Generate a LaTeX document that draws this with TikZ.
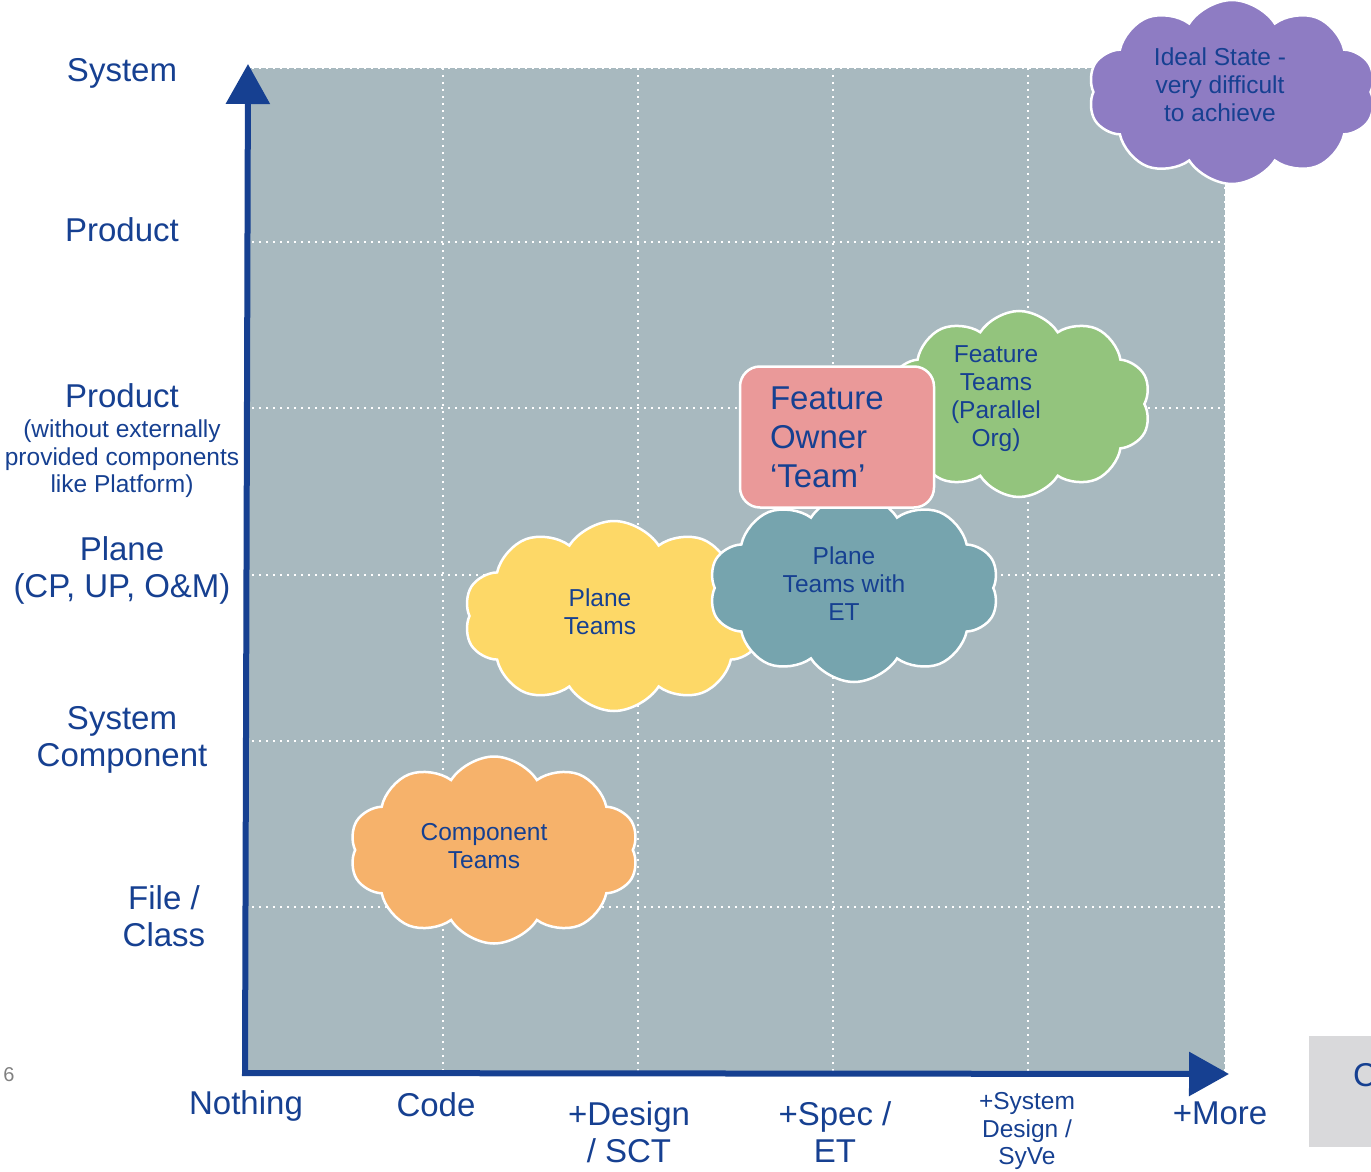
\documentclass[tikz,border=0pt]{standalone}
\usepackage{fontspec}
\setmainfont{Liberation Sans}
\usepackage{tikz}
\usetikzlibrary{positioning, arrows.meta, shapes.symbols}

\definecolor{navy}{RGB}{22,64,145}
\definecolor{gridbg}{RGB}{168,185,191}
\definecolor{cyellow}{RGB}{253,216,103}
\definecolor{cteal}{RGB}{118,164,174}
\definecolor{cgreen}{RGB}{147,196,125}
\definecolor{corange}{RGB}{246,178,107}
\definecolor{cpurple}{RGB}{142,124,195}
\definecolor{cpink}{RGB}{234,153,153}
\definecolor{sidegray}{RGB}{217,217,219}

\begin{document}
\begin{tikzpicture}[
    x=1pt, y=-1pt,
    >={Triangle[length=40pt, width=43pt]},
    gridline/.style={white, line width=1.8pt, dash pattern=on 2pt off 5pt},
    puff/.style   ={cloud, cloud puffs=10, cloud puff arc=115, cloud ignores aspect, draw=white, line width=2.5pt,
                    inner sep=0pt},
    puftxt/.style ={align=center, text=navy, font=\fontsize{24.5}{28}\selectfont},
    axlbl/.style  ={align=center, text=navy, font=\fontsize{33}{37}\selectfont},
    note/.style   ={align=center, text=navy, font=\fontsize{24.5}{27.5}\selectfont},
    fobox/.style  ={draw=white, line width=2.5pt, fill=cpink, rounded corners=20pt, align=left, text=navy,
                    text width=134pt, inner xsep=30pt, minimum height=141pt, font=\fontsize{33}{39}\selectfont},
]
\useasboundingbox (0,0) rectangle (1371,1172);
\clip (0,0) rectangle (1371,1172);

% background grid
\fill[gridbg] (245,68) rectangle (1225,1072);
\foreach \x in {443,638,833,1028,1225}
    \draw[gridline] (\x,68) -- (\x,1072);
\foreach \y in {68,242,408,575,741,907}
    \draw[gridline] (245,\y) -- (1225,\y);

% clouds, text sits a bit left of each centre
\node[puff, fill=cpurple, minimum width=288pt, minimum height=184pt] (ideal) at (1232,92) {};
\node[puftxt, xshift=-12pt, yshift=7pt] (idealtxt) at (ideal) {Ideal State -\\very difficult\\to achieve};

\node[puff, fill=cgreen,  minimum width=264pt, minimum height=186pt] (ftteams) at (1019,404) {};
\node[puftxt, xshift=-23pt, yshift=5pt] (fttxt) at (ftteams) {Feature\\Teams\\(Parallel\\Org)};

\node[puff, fill=cyellow, minimum width=300pt, minimum height=190pt] (plane) at (614,616) {};
\node[puftxt, xshift=-14pt, yshift=4pt] (planetxt) at (plane) {Plane\\Teams};

\node[puff, fill=cteal,   minimum width=290pt, minimum height=188pt] (planeet) at (854,588) {};
\node[puftxt, xshift=-10pt, yshift=4pt] (planeettxt) at (planeet) {Plane\\Teams with\\ET};

\node[puff, fill=corange, minimum width=289pt, minimum height=187pt] (comp) at (494,850) {};
\node[puftxt, xshift=-10pt, yshift=4pt] (comptxt) at (comp) {Component\\Teams};

\node[fobox] (fo) at (837,437) {Feature\\Owner\\‘Team’};

% axes
\coordinate (origin) at (245,1073);
\coordinate (ytip)   at (248,64);
\coordinate (xtip)   at (1229,1074);
\draw[navy, line width=6pt, <->] (ytip) -- (origin) -- (xtip);

% scope levels
\node[axlbl] (ysys)   at (122,73)  {System};
\node[axlbl] (yprod)  at (122,230) {Product};
\node[axlbl] (yprodx) at (122,396) {Product};
\node[note]  (yprodn) at (122,459) {(without externally\\provided components\\like Platform)};
\node[axlbl] (yplane) at (122,570) {Plane\\(CP, UP, O\&M)};
\node[axlbl] (ycomp)  at (122,740) {System\\Component};
\node[axlbl] (yfile)  at (164,916) {File /\\Class};

% ownership levels
\node[axlbl] (xnone)  at (246,1106)  {Nothing};
\node[axlbl] (xcode)  at (436,1105)  {Code};
\node[axlbl] (xdes)   at (629,1132)  {+Design\\/ SCT};
\node[axlbl] (xspec)  at (835,1132)  {+Spec /\\ET};
\node[note]  (xsys)   at (1027,1131) {+System\\Design /\\SyVe};
\node[axlbl] (xmore)  at (1220,1113) {+More};

% page furniture
\node[text=gray, font=\fontsize{20}{24}\selectfont] (pageno) at (9,1075) {6};
\node[fill=sidegray, anchor=north west, minimum width=80pt, minimum height=111pt, inner sep=0pt] (side) at (1309,1036) {};
\node[anchor=west, inner sep=0pt, text=navy, font=\fontsize{33}{37}\selectfont] (sidetxt) at (1353,1075) {C};

\end{tikzpicture}
\end{document}
